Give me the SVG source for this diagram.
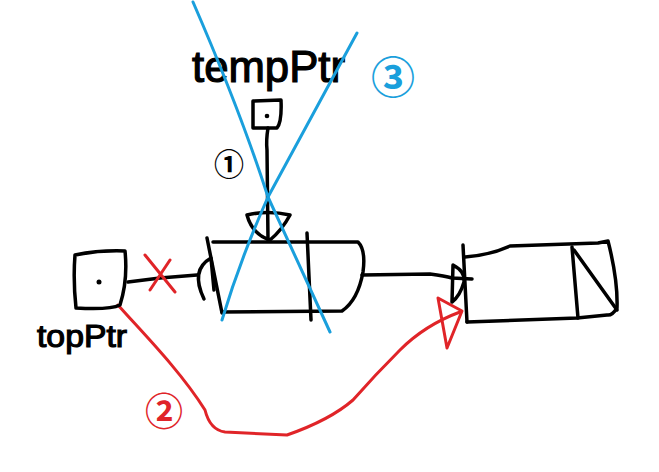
<svg xmlns="http://www.w3.org/2000/svg" width="659" height="472" viewBox="0 0 659 472">
<style>
.k{fill:none;stroke:#000;stroke-width:3.5;stroke-linecap:round;stroke-linejoin:round}
.r{fill:none;stroke:#e02428;stroke-width:3;stroke-linecap:round;stroke-linejoin:round}
.b{fill:none;stroke:#1a9fdc;stroke-width:3;stroke-linecap:round;stroke-linejoin:round}
.t{font-family:"Liberation Sans","Noto Sans",sans-serif;fill:#000;stroke:#000;stroke-width:1.2}
.c{font-family:"Noto Sans CJK SC","DejaVu Sans",sans-serif;text-anchor:middle;dominant-baseline:central;font-weight:bold}
</style>
<rect width="659" height="472" fill="#fff"/>
<g id="connectors">
<path class="k" d="M128,282 L160,278 L197,275"/>
<path class="k" d="M362,275 L430,274 Q445,276 452,278 L472,279"/>
<path class="k" d="M268,128 Q266,140 267,150 L268,240"/>
<path class="r" d="M118,305 C140,330 180,370 205,410 Q210,430 225,432 L287,435 Q330,420 353,400 Q375,375 400,350 Q425,325 460,312"/>
<path class="r" d="M438,298 L462,311 L447,348 Z"/>
</g>
<g id="topPtr">
<path class="k" d="M75,255 Q100,250 125,251 Q128,280 120,305 Q110,310 76,308 Q73,280 75,255 Z"/>
<circle cx="99" cy="282" r="2.5" fill="#000"/>
<text class="t" x="37" y="347" font-size="32" textLength="90" lengthAdjust="spacingAndGlyphs">topPtr</text>
</g>
<g id="tempPtr">
<path class="k" d="M253,101 L281,100 Q282,122 277,128 L253,128 Z"/>
<circle cx="267" cy="116" r="2.3" fill="#000"/>
<text class="t" x="192" y="82" font-size="44" textLength="153" lengthAdjust="spacingAndGlyphs">tempPtr</text>
</g>
<g id="node1">
<path class="k" d="M207,238 L222,313"/>
<path class="k" d="M213,242 L358,242 Q366,250 363,272 Q358,300 342,311 L222,312"/>
<path class="k" d="M307,233 L311,320"/>
<path class="k" d="M211,258 Q190,270 204,299 M211,258 L214,290"/>
<path class="k" d="M247,215 Q268,210 290,215 Q282,230 270,240 Q252,234 247,215 Z"/>
</g>
<g id="node2">
<path class="k" d="M463,245 L467,322"/>
<path class="k" d="M465,257 Q490,255 510,246 L598,243 L608,241 Q618,280 617,308 Q612,316 607,315 L577,318 L467,322"/>
<path class="k" d="M572,247 L578,318"/>
<path class="k" d="M574,250 L617,310"/>
<path class="k" d="M453,265 Q466,272 464,282 Q460,296 452,302 Z"/>
</g>
<g id="annotations">
<path class="r" d="M145,255 L175,292 M170,260 L150,290"/>
<path class="b" d="M193,2 Q240,110 268,197 L330,332"/>
<path class="b" d="M357,33 L268,197 Q240,260 222,320"/>
<text class="c" x="229" y="162" font-size="30" fill="#000">①</text>
<text class="c" x="164" y="408" font-size="38" fill="#e02428">②</text>
<text class="c" x="393" y="75" font-size="44" fill="#1a9fdc">③</text>
</g>
</svg>
